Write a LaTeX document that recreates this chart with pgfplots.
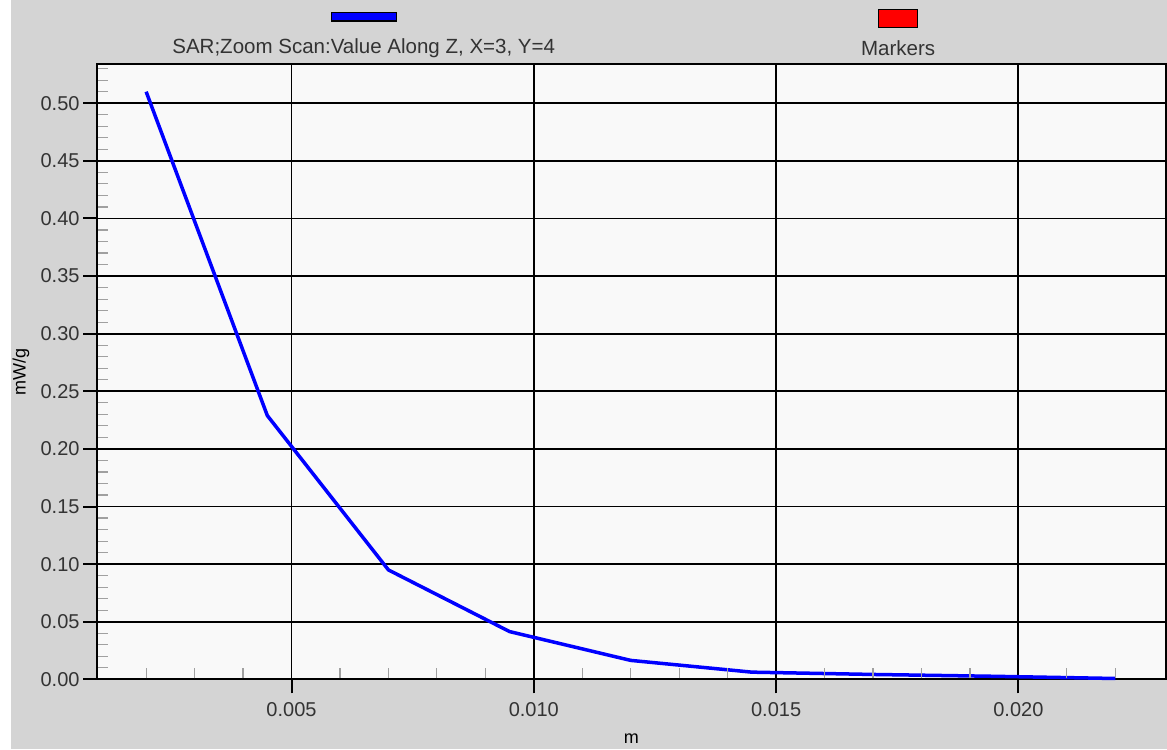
\documentclass[border=0pt]{standalone}
\usepackage{pgfplots}
\pgfplotsset{compat=1.18}
\usepackage{fontspec}
\setmainfont{Liberation Sans}
\usetikzlibrary{backgrounds}
\definecolor{bggray}{RGB}{212,212,212}
\definecolor{plotbg}{RGB}{249,249,249}
\definecolor{minorgray}{RGB}{160,160,160}
\pgfplotsset{base/.style={
  scale only axis,
  width=1068pt, height=615pt,
  xmin=0.000987, xmax=0.02304,
  ymin=0, ymax=0.534,
  scaled ticks=false,
  xtick pos=left, ytick pos=left,
  clip=false,
}}
\begin{document}
\begin{tikzpicture}
\begin{axis}[
  base,
  axis background/.style={fill=plotbg},
  axis line style={black, line width=2pt},
  xtick={0.005,0.010,0.015,0.020},
  ytick={0,0.05,...,0.51},
  tick align=outside,
  major tick length=14pt,
  major tick style={black, line width=2pt},
  grid=major,
  major grid style={black, line width=1.8pt},
  /pgf/number format/assume math mode=true,
  xticklabel style={/pgf/number format/fixed, /pgf/number format/fixed zerofill, /pgf/number format/precision=3, font=\fontsize{20}{24}\selectfont, text=black!80, yshift=-6pt},
  yticklabel style={/pgf/number format/fixed, /pgf/number format/fixed zerofill, /pgf/number format/precision=2, font=\fontsize{20}{24}\selectfont, text=black!80},
  xlabel={m},
  ylabel={mW/g},
  xlabel style={font=\fontsize{18}{22}\selectfont, at={(rel axis cs:0.5,0)}, yshift=-51pt},
  ylabel style={font=\fontsize{18}{22}\selectfont, at={(rel axis cs:0,0.5)}, yshift=64pt},
]
\addplot[color={rgb,255:red,0;green,0;blue,255}, line width=3.5pt, line join=round] coordinates {
  (0.002,0.510) (0.0045,0.229) (0.007,0.095) (0.0095,0.0415) (0.012,0.0165)
  (0.0145,0.0063) (0.017,0.0043) (0.0195,0.0027) (0.022,0.0008)
};
\coordinate (sw) at (rel axis cs:0,0);
\coordinate (ne) at (rel axis cs:1,1);
\coordinate (nw) at (rel axis cs:0,1);
\end{axis}
% minor ticks, drawn inside the box
\begin{axis}[
  base,
  axis line style={draw=none},
  xtick={0.002,0.003,0.004,0.006,0.007,0.008,0.009,0.011,0.012,0.013,0.014,0.016,0.017,0.018,0.019,0.021,0.022},
  ytick={0.01,0.02,0.03,0.04,0.06,0.07,0.08,0.09,0.11,0.12,0.13,0.14,0.16,0.17,0.18,0.19,0.21,0.22,0.23,0.24,0.26,0.27,0.28,0.29,0.31,0.32,0.33,0.34,0.36,0.37,0.38,0.39,0.41,0.42,0.43,0.44,0.46,0.47,0.48,0.49,0.51,0.52,0.53},
  xticklabels={}, yticklabels={},
  tick align=inside,
  major tick length=10pt,
  xtick style={minorgray, line width=1.2pt, yshift=1pt},
  ytick style={minorgray, line width=1.2pt, xshift=1pt},
]
\addplot[draw=none] coordinates {(0.002,0) (0.022,0)};
\end{axis}
\begin{scope}[on background layer]
  \fill[bggray] ([shift={(-97pt,-69.7pt)}]sw) rectangle ([shift={(1.3pt,64pt)}]ne);
  \fill[white] ([shift={(-97pt,-69.7pt)}]sw) rectangle ([shift={(-86pt,64pt)}]sw|-ne);
\end{scope}
% legend
\draw[black, line width=1pt, fill={rgb,255:red,0;green,0;blue,255}] ([shift={(234pt,43pt)}]nw) rectangle ([shift={(299pt,51pt)}]nw);
\draw[black, line width=1pt, fill={rgb,255:red,255;green,0;blue,0}] ([shift={(781pt,37pt)}]nw) rectangle ([shift={(820pt,54pt)}]nw);
\node[font=\fontsize{20.5}{24}\selectfont, text=black!80] at ([shift={(266.5pt,16pt)}]nw) {SAR;Zoom Scan:Value Along Z, X=3, Y=4};
\node[font=\fontsize{20.5}{24}\selectfont, text=black!80] at ([shift={(800.5pt,16pt)}]nw) {Markers};
\end{tikzpicture}
\end{document}
